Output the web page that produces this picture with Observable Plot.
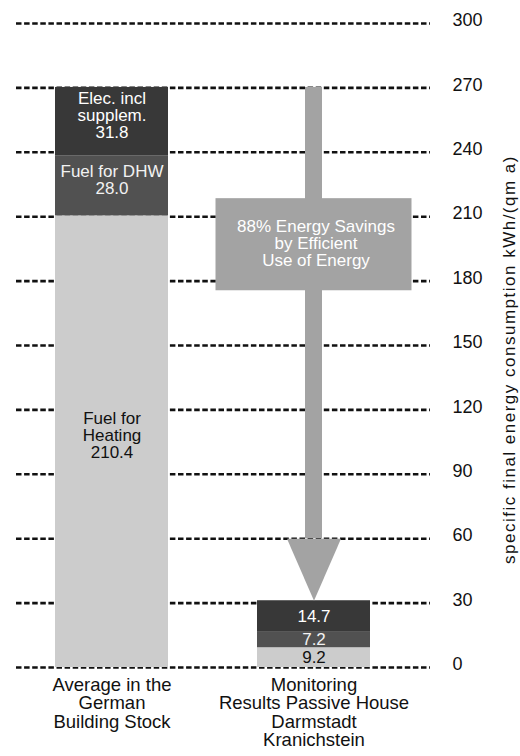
<!DOCTYPE html>
<html>
<head>
<meta charset="utf-8">
<script src="https://cdn.jsdelivr.net/npm/d3@7"></script>
<script src="https://cdn.jsdelivr.net/npm/@observablehq/plot@0.6"></script>
<style>
  html, body { margin: 0; padding: 0; background: #fff; }
  #chart svg { display: block; }
</style>
</head>
<body>
<div id="chart"></div>
<script>
// ---- data ----
const buildings = [
  "Average in the\nGerman\nBuilding Stock",
  "Monitoring\nResults Passive House\nDarmstadt\nKranichstein"
];
const components = ["Fuel for Heating", "Fuel for DHW", "Elec. incl supplem."];
const componentLabels = ["Fuel for\nHeating", "Fuel for DHW", "Elec. incl\nsupplem."];
const germanStock = [210.4, 28.0, 31.8];
const passiveHouse = [9.2, 7.2, 14.7];
const yTicks = [0, 30, 60, 90, 120, 150, 180, 210, 240, 270, 300];
const axisLabel = "specific final energy consumption kWh/(qm a)";
const arrowText = "88% Energy Savings\nby Efficient\nUse of Energy";

// ---- styles / annotation geometry ----
const componentColors = {"Fuel for Heating": "#cccccc", "Fuel for DHW": "#515151", "Elec. incl supplem.": "#383838"};
const textColors = {"Fuel for Heating": "#111111", "Fuel for DHW": "#f2f2f2", "Elec. incl supplem.": "#ffffff"};
const arrowColor = "#a3a3a3";
const arrowHeadBase = 60;        // value where the arrow head starts
const arrowBox = [175.5, 218.4]; // value range of the annotation box

const rows = [];
components.forEach((c, i) => {
  rows.push({building: buildings[0], component: c, value: germanStock[i],
             label: componentLabels[i] + "\n" + germanStock[i].toFixed(1)});
  rows.push({building: buildings[1], component: c, value: passiveHouse[i],
             label: passiveHouse[i].toFixed(1)});
});
const leftTotal = d3.sum(germanStock);
const rightTotal = d3.sum(passiveHouse);

const font = "'Liberation Sans', Arial, Helvetica, sans-serif";

const triangleDown = {
  draw(context) {
    context.moveTo(0, 0);
    context.lineTo(-27, -62);
    context.lineTo(27, -62);
    context.closePath();
  }
};

const chart = Plot.plot({
  width: 520,
  height: 756,
  marginLeft: 16,
  marginRight: 90,
  marginTop: 23,
  marginBottom: 89,
  style: {fontFamily: font, fontSize: "18px", background: "#fff", color: "#111"},
  x: {type: "band", domain: buildings, paddingInner: 0.442, paddingOuter: 0.243, align: 0.396},
  y: {domain: [0, 300]},
  color: {type: "identity"},
  marks: [
    Plot.ruleY(yTicks, {stroke: "#111", strokeWidth: 2.6, strokeDasharray: "5.5,2.6"}),
    Plot.barY(rows, Plot.stackY({x: "building", y: "value", fill: d => componentColors[d.component], insetLeft: 0, insetRight: 0})),
    // arrow stem, box and head
    Plot.barY([{b: buildings[1], y1: arrowHeadBase, y2: leftTotal}], {x: "b", y1: "y1", y2: "y2", fill: arrowColor, insetLeft: 48, insetRight: 48}),
    Plot.barY([{b: buildings[1], y1: arrowBox[0], y2: arrowBox[1]}], {x: "b", y1: "y1", y2: "y2", fill: arrowColor, insetLeft: -41.5, insetRight: -41.5}),
    Plot.dot([{b: buildings[1], y: rightTotal}], {x: "b", y: "y", symbol: triangleDown, fill: arrowColor, stroke: "none", r: 10}),
    Plot.text([{b: buildings[1], y: (arrowBox[0] + arrowBox[1]) / 2, t: arrowText}], {x: "b", y: "y", text: "t", fill: "#fff", fontSize: 17, lineHeight: 1, dx: 2, dy: -1}),
    // segment labels
    Plot.text(rows.filter(d => d.building === buildings[0]), Plot.stackY({x: "building", y: "value", text: "label", fill: d => textColors[d.component], fontSize: 17, lineHeight: 1, dy: -6})),
    Plot.text(rows.filter(d => d.building === buildings[1]), Plot.stackY({x: "building", y: "value", text: "label", fill: d => textColors[d.component], fontSize: 17, lineHeight: 1})),
    // axes
    Plot.axisY({anchor: "right", ticks: yTicks, tickSize: 0, tickPadding: 22, label: null, fontSize: 18, dy: -3}),
    Plot.axisX({anchor: "bottom", tickSize: 0, tickPadding: 10, label: null, fontSize: 18.5, lineHeight: 1}),
    Plot.text([axisLabel], {frameAnchor: "right", textAnchor: "middle", text: d => d, dx: 79, dy: 14, rotate: -90, fontSize: 17, fill: "#111"})
  ]
});

document.getElementById("chart").appendChild(chart);
const lab = Array.from(chart.querySelectorAll("text")).find(t => t.textContent === axisLabel);
if (lab) lab.style.letterSpacing = "1.5px";
</script>
</body>
</html>
